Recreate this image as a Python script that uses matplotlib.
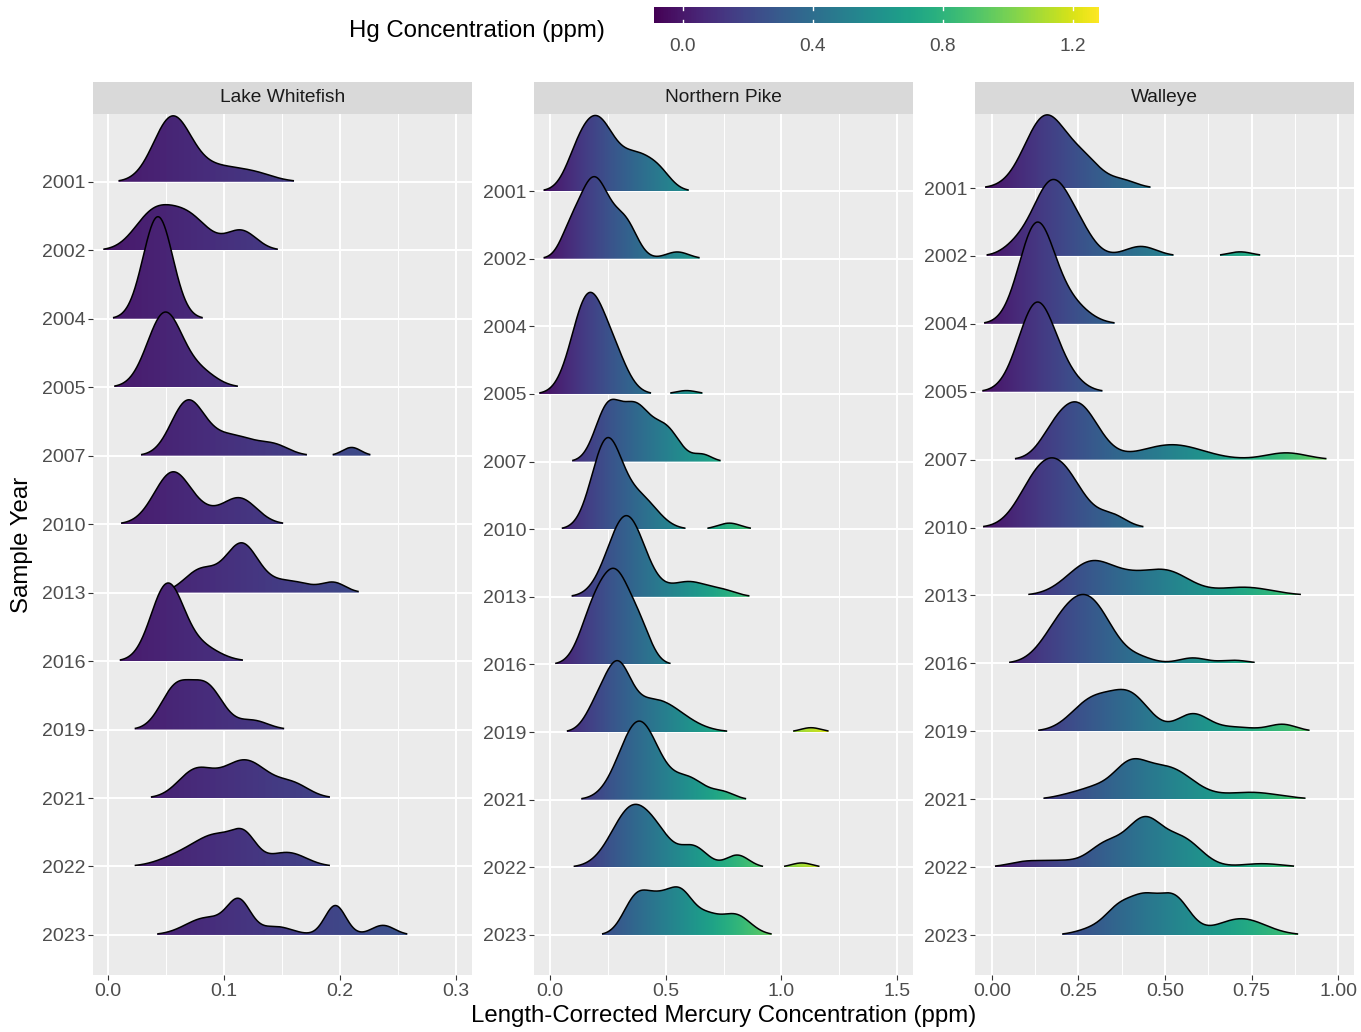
import numpy as np
import matplotlib
matplotlib.use("Agg")
import matplotlib.pyplot as plt
from matplotlib.patches import Polygon
from matplotlib.colors import Normalize
from matplotlib.colorbar import ColorbarBase

plt.rcParams['font.family'] = ['Liberation Sans', 'DejaVu Sans']

years = [2001, 2002, 2004, 2005, 2007, 2010, 2013, 2016, 2019, 2021, 2022, 2023]
species = ["Lake Whitefish", "Northern Pike", "Walleye"]

# density modes per sample year: (centre ppm, spread ppm, height in row units)
whitefish = {
    2001: [(0.055, 0.016, 0.90), (0.095, 0.025, 0.22), (0.13, 0.015, 0.06)],
    2002: [(0.038, 0.016, 0.48), (0.068, 0.018, 0.50), (0.115, 0.013, 0.28)],
    2004: [(0.043, 0.0128, 1.49)],
    2005: [(0.049, 0.015, 1.08), (0.08, 0.014, 0.20)],
    2007: [(0.068, 0.014, 0.72), (0.105, 0.024, 0.30), (0.145, 0.012, 0.10), (0.21, 0.008, 0.12)],
    2010: [(0.056, 0.016, 0.76), (0.085, 0.012, 0.08), (0.113, 0.015, 0.38)],
    2013: [(0.08, 0.014, 0.33), (0.115, 0.014, 0.69), (0.155, 0.02, 0.17), (0.195, 0.01, 0.13)],
    2016: [(0.051, 0.014, 1.10), (0.08, 0.016, 0.20)],
    2019: [(0.058, 0.013, 0.58), (0.085, 0.014, 0.62), (0.125, 0.013, 0.13)],
    2021: [(0.075, 0.015, 0.38), (0.118, 0.02, 0.55), (0.16, 0.014, 0.18)],
    2022: [(0.06, 0.018, 0.12), (0.095, 0.02, 0.45), (0.118, 0.01, 0.28), (0.155, 0.016, 0.20)],
    2023: [(0.085, 0.018, 0.25), (0.113, 0.01, 0.45), (0.145, 0.014, 0.12), (0.196, 0.009, 0.43),
           (0.237, 0.01, 0.14)],
}

pike = {
    2001: [(0.11, 0.05, 0.20), (0.20, 0.075, 1.05), (0.38, 0.075, 0.50), (0.48, 0.05, 0.15)],
    2002: [(0.08, 0.04, 0.20), (0.19, 0.07, 1.20), (0.33, 0.05, 0.45), (0.55, 0.05, 0.10)],
    2004: [],
    2005: [(0.165, 0.07, 1.42), (0.28, 0.06, 0.45), (0.59, 0.045, 0.05)],
    2007: [(0.25, 0.055, 0.78), (0.37, 0.06, 0.76), (0.50, 0.06, 0.48), (0.66, 0.04, 0.10)],
    2010: [(0.245, 0.065, 1.28), (0.39, 0.075, 0.45), (0.775, 0.05, 0.09)],
    2013: [(0.33, 0.08, 1.20), (0.60, 0.08, 0.22), (0.75, 0.06, 0.08)],
    2016: [(0.19, 0.06, 0.75), (0.29, 0.06, 1.15), (0.39, 0.05, 0.45)],
    2019: [(0.20, 0.05, 0.30), (0.29, 0.055, 0.80), (0.45, 0.12, 0.48), (1.128, 0.045, 0.065)],
    2021: [(0.385, 0.085, 1.16), (0.60, 0.07, 0.30), (0.75, 0.05, 0.10)],
    2022: [(0.36, 0.09, 0.90), (0.48, 0.06, 0.20), (0.62, 0.06, 0.30), (0.81, 0.05, 0.18),
           (1.088, 0.045, 0.065)],
    2023: [(0.37, 0.055, 0.50), (0.47, 0.06, 0.45), (0.57, 0.055, 0.55), (0.68, 0.05, 0.22),
           (0.80, 0.065, 0.30)],
}

walleye = {
    2001: [(0.155, 0.06, 1.05), (0.27, 0.05, 0.35), (0.38, 0.04, 0.10)],
    2002: [(0.07, 0.04, 0.12), (0.175, 0.055, 1.10), (0.26, 0.04, 0.20), (0.43, 0.045, 0.14),
           (0.717, 0.035, 0.06)],
    2004: [(0.128, 0.05, 1.42), (0.22, 0.055, 0.30)],
    2005: [(0.13, 0.053, 1.30), (0.22, 0.045, 0.15)],
    2007: [(0.17, 0.04, 0.15), (0.245, 0.06, 0.82), (0.52, 0.09, 0.22), (0.85, 0.06, 0.10)],
    2010: [(0.11, 0.05, 0.20), (0.185, 0.07, 0.95), (0.35, 0.04, 0.15)],
    2013: [(0.29, 0.07, 0.50), (0.40, 0.05, 0.10), (0.50, 0.07, 0.36), (0.73, 0.08, 0.12)],
    2016: [(0.19, 0.055, 0.35), (0.28, 0.065, 0.90), (0.43, 0.04, 0.06), (0.58, 0.04, 0.08),
           (0.70, 0.04, 0.045)],
    2019: [(0.29, 0.06, 0.45), (0.40, 0.055, 0.50), (0.58, 0.045, 0.25), (0.70, 0.06, 0.06),
           (0.84, 0.04, 0.10)],
    2021: [(0.24, 0.05, 0.08), (0.30, 0.04, 0.10), (0.395, 0.05, 0.45), (0.51, 0.07, 0.45),
           (0.75, 0.08, 0.10)],
    2022: [(0.10, 0.05, 0.08), (0.20, 0.05, 0.08), (0.33, 0.05, 0.33), (0.44, 0.05, 0.66),
           (0.55, 0.055, 0.40), (0.78, 0.06, 0.05)],
    2023: [(0.30, 0.05, 0.10), (0.37, 0.04, 0.35), (0.44, 0.04, 0.45), (0.525, 0.045, 0.55),
           (0.72, 0.07, 0.24)],
}

x_ticks = [[0.0, 0.1, 0.2, 0.3], [0.0, 0.5, 1.0, 1.5], [0.0, 0.25, 0.5, 0.75, 1.0]]
x_labels = [["0.0", "0.1", "0.2", "0.3"], ["0.0", "0.5", "1.0", "1.5"],
            ["0.00", "0.25", "0.50", "0.75", "1.00"]]

fill_norm = Normalize(vmin=-0.089, vmax=1.28)
cmap = plt.get_cmap('viridis')
rel_min = 0.015

W, H = 1361, 1032
fig = plt.figure(figsize=(W / 100, H / 100), dpi=100)

panel_left = [93, 534, 975]
panel_w = 379
panel_top, panel_bot = 114, 975
xlims = [(-0.013, 0.3138), (-0.069, 1.569), (-0.049, 1.046)]
ylims = [(-0.585, 11.99), (-0.592, 12.14), (-0.589, 12.09)]


def fx(px):
    return px / W


def fy(py):
    return 1 - py / H


def density(x, modes):
    d = np.zeros_like(x)
    for m, s, h in modes:
        d += h * np.exp(-0.5 * ((x - m) / s) ** 2)
    return d


def segments(mask):
    idx = np.flatnonzero(mask)
    if idx.size == 0:
        return []
    breaks = np.flatnonzero(np.diff(idx) > 1)
    starts = np.r_[idx[0], idx[breaks + 1]]
    ends = np.r_[idx[breaks], idx[-1]]
    return list(zip(starts, ends))


for k, (name, data) in enumerate(zip(species, [whitefish, pike, walleye])):
    ax = fig.add_axes([fx(panel_left[k]), fy(panel_bot), panel_w / W, (panel_bot - panel_top) / H])
    ax.set_facecolor('#EBEBEB')
    for sp in ax.spines.values():
        sp.set_visible(False)

    x0, x1 = xlims[k]
    ticks = x_ticks[k]
    step = ticks[1] - ticks[0]
    minor = np.arange(ticks[0] - step / 2, x1, step)
    for v in minor:
        if x0 < v < x1:
            ax.axvline(v, color='white', lw=0.7, zorder=0)
    for v in ticks:
        ax.axvline(v, color='white', lw=1.4, zorder=0)

    rows = np.arange(len(years))[::-1]  # 2001 on top
    for r in rows:
        ax.axhline(r, color='white', lw=1.4, zorder=0)

    xs = np.linspace(x0, x1, 1500)
    grad = np.linspace(x0, x1, 600)[None, :]
    z = 1
    for yr, base in zip(years, rows):
        modes = data[yr]
        if not modes:
            continue
        d = density(xs, modes)
        for a, b in segments(d >= rel_min):
            sx = xs[a:b + 1]
            sy = base + d[a:b + 1]
            verts = np.column_stack([np.r_[sx, sx[::-1]], np.r_[sy, np.full_like(sx, base)]])
            poly = Polygon(verts, closed=True, facecolor='none', edgecolor='none',
                           transform=ax.transData, zorder=z)
            ax.add_patch(poly)
            im = ax.imshow(grad, cmap=cmap, norm=fill_norm, aspect='auto', origin='lower',
                           extent=(x0, x1, base, base + d.max() + 0.05),
                           interpolation='bilinear', zorder=z)
            im.set_clip_path(poly)
            ax.plot(sx, sy, color='black', lw=1.1, zorder=z + 0.5, solid_capstyle='butt')
        z += 1

    ax.set_xlim(x0, x1)
    ax.set_ylim(*ylims[k])
    ax.set_xticks(ticks)
    ax.set_xticklabels(x_labels[k])
    ax.set_yticks(rows)
    ax.set_yticklabels([str(y) for y in years])
    ax.tick_params(axis='both', length=3.6, width=0.8, color='#333333',
                   labelsize=14, labelcolor='#4D4D4D', pad=2)

    strip = fig.add_axes([fx(panel_left[k]), fy(panel_top), panel_w / W, 32 / H])
    strip.set_facecolor('#D9D9D9')
    strip.set_xticks([])
    strip.set_yticks([])
    for sp in strip.spines.values():
        sp.set_visible(False)
    strip.text(0.5, 0.5, name, ha='center', va='center', fontsize=13.8, color='#1A1A1A')

fig.text(fx(723.5), fy(1016), "Length-Corrected Mercury Concentration (ppm)",
         ha='center', va='center', fontsize=17.3)
fig.text(fx(22), fy(545), "Sample Year", ha='center', va='center', rotation=90, fontsize=17.3)

# colour bar for the fill scale
cax = fig.add_axes([fx(654), fy(23), 445 / W, 16 / H])
cb = ColorbarBase(cax, cmap=cmap, norm=fill_norm, orientation='horizontal')
cb.outline.set_visible(False)
cb.set_ticks([0.0, 0.4, 0.8, 1.2])
cb.set_ticklabels(["0.0", "0.4", "0.8", "1.2"])
cax.tick_params(length=0, labelsize=13.8, labelcolor='#4D4D4D', pad=10.5)
for v in [0.0, 0.4, 0.8, 1.2]:
    cax.axvline(v, 0, 0.2, color='white', lw=1)
    cax.axvline(v, 0.8, 1, color='white', lw=1)
fig.text(fx(605), fy(31), "Hg Concentration (ppm)", ha='right', va='center', fontsize=17.3)

fig.savefig('out.png', dpi=100)
